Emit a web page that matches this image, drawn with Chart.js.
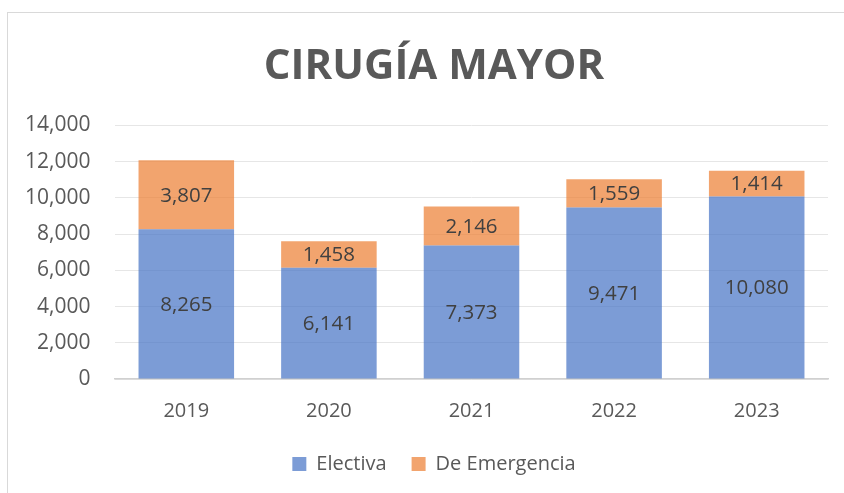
<!DOCTYPE html>
<html>
<head>
<meta charset="utf-8">
<script src="https://cdn.jsdelivr.net/npm/chart.js@4/dist/chart.umd.min.js"></script>
<style>
  html, body { margin: 0; padding: 0; background: #fff; overflow: hidden; }
  #frame { position: absolute; left: 7px; top: 12px; width: 900px; height: 600px;
           border: 1px solid #d9d9d9; box-sizing: border-box; }
  #wrap { position: absolute; left: 0; top: 0; width: 844px; height: 493px; }
</style>
</head>
<body>
<div id="frame"></div>
<div id="wrap"><canvas id="chart"></canvas></div>
<script>
// ── Données ──────────────────────────────────────────────
const years      = ['2019', '2020', '2021', '2022', '2023'];
const electiva   = [8265, 6141, 7373, 9471, 10080];
const emergencia = [3807, 1458, 2146, 1559, 1414];
const yTicks     = [0, 2000, 4000, 6000, 8000, 10000, 12000, 14000];

const FONT = "'Open Sans', 'Liberation Sans', sans-serif";
const fmt  = v => v.toLocaleString('en-US');

/* ── Étiquettes au centre des segments ── */
const barLabels = {
  id: 'barLabels',
  afterDatasetsDraw(chart) {
    const ctx = chart.ctx;
    ctx.save();
    ctx.font = `20.5px ${FONT}`;
    ctx.fillStyle = '#404040';
    ctx.textAlign = 'center';
    ctx.textBaseline = 'middle';
    chart.data.datasets.forEach((ds, i) => {
      chart.getDatasetMeta(i).data.forEach((bar, j) => {
        ctx.fillText(fmt(ds.data[j]), bar.x, (bar.y + bar.base) / 2 + 1);
      });
    });
    ctx.restore();
  }
};

new Chart(document.getElementById('chart'), {
  type: 'bar',
  data: {
    labels: years,
    datasets: [
      { label: 'Electiva',      data: electiva,   backgroundColor: 'rgba(68,114,196,0.7)' },
      { label: 'De Emergencia', data: emergencia, backgroundColor: 'rgba(237,125,49,0.7)' },
    ],
  },
  options: {
    responsive: true,
    maintainAspectRatio: false,
    animation: false,
    layout: { padding: { left: 40, right: 16, top: 12, bottom: 9 } },
    datasets: { bar: { categoryPercentage: 1, barPercentage: 0.67 } },
    plugins: {
      title: {
        display: true,
        text: 'CIRUGÍA MAYOR',
        color: '#595959',
        font: { family: FONT, size: 42, weight: 'bold' },
        padding: { top: 30, bottom: 33 },
      },
      legend: {
        position: 'bottom',
        labels: {
          color: '#595959',
          font: { family: FONT, size: 20 },
          boxWidth: 14, boxHeight: 14,
          padding: 25,
        },
      },
      tooltip: { enabled: false },
    },
    scales: {
      x: {
        stacked: true,
        afterFit: axis => { axis.height -= 14; },
        grid: { display: false, drawTicks: false },
        border: { color: '#d0d0d0', width: 1.5 },
        ticks: { color: '#595959', font: { family: FONT, size: 20 }, padding: 20 },
      },
      y: {
        stacked: true,
        min: 0, max: 14000,
        afterBuildTicks: axis => { axis.ticks = yTicks.map(v => ({ value: v })); },
        afterFit: axis => { axis.width = 75; },
        grid: { color: '#e6e6e6', drawTicks: false },
        border: { display: false },
        // labels placés à gauche de l'axe, alignés à droite (x ≈ 91)
        ticks: { mirror: true, crossAlign: 'far', padding: -90,
                 color: '#595959', font: { family: FONT, size: 21 }, callback: v => fmt(v) },
      },
    },
  },
  plugins: [barLabels],
});
</script>
</body>
</html>
